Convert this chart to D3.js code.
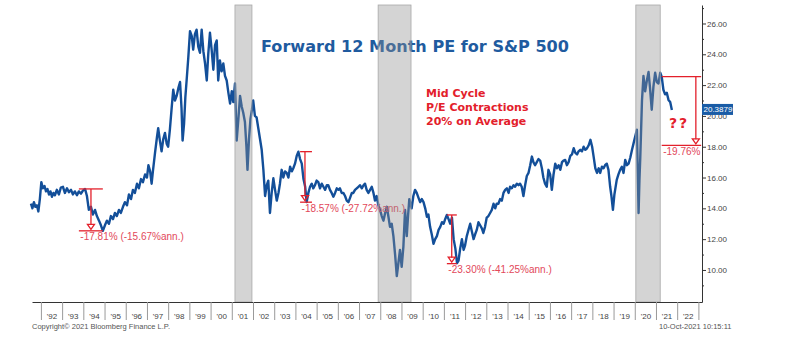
<!DOCTYPE html>
<html>
<head>
<meta charset="utf-8">
<script src="https://cdn.jsdelivr.net/npm/d3@7"></script>
<style>
  body { margin: 0; background: #fff; }
  svg { display: block; }
</style>
</head>
<body>
<svg id="chart" width="790" height="337"></svg>
<script>
// forward 12m P/E, weekly-ish readings (decimal year, value)
const years = [
  1991.53, 1991.6, 1991.67, 1991.74, 1991.81, 1991.88, 1991.95, 1992.02, 1992.09, 1992.17,
  1992.24, 1992.31, 1992.38, 1992.45, 1992.52, 1992.59, 1992.66, 1992.75, 1992.85, 1992.94,
  1993.04, 1993.13, 1993.23, 1993.32, 1993.42, 1993.51, 1993.6, 1993.7, 1993.79, 1993.89,
  1993.98, 1994.08, 1994.17, 1994.26, 1994.36, 1994.45, 1994.55, 1994.64, 1994.74, 1994.83,
  1994.92, 1995.02, 1995.11, 1995.21, 1995.3, 1995.4, 1995.49, 1995.58, 1995.68, 1995.77,
  1995.87, 1995.96, 1996.06, 1996.15, 1996.25, 1996.34, 1996.43, 1996.53, 1996.62, 1996.72,
  1996.81, 1996.91, 1997.0, 1997.07, 1997.15, 1997.22, 1997.28, 1997.38, 1997.47, 1997.53,
  1997.61, 1997.69, 1997.77, 1997.85, 1997.93, 1998.0, 1998.08, 1998.17, 1998.24, 1998.32,
  1998.4, 1998.48, 1998.56, 1998.63, 1998.68, 1998.75, 1998.81, 1998.87, 1998.95, 1999.03,
  1999.11, 1999.18, 1999.26, 1999.34, 1999.42, 1999.5, 1999.58, 1999.66, 1999.74, 1999.82,
  1999.89, 1999.97, 2000.05, 2000.13, 2000.21, 2000.29, 2000.36, 2000.44, 2000.52, 2000.6,
  2000.68, 2000.76, 2000.84, 2000.92, 2001.0, 2001.07, 2001.15, 2001.23, 2001.31, 2001.39,
  2001.47, 2001.54, 2001.62, 2001.69, 2001.74, 2001.81, 2001.88, 2001.95, 2002.01, 2002.09,
  2002.17, 2002.25, 2002.33, 2002.41, 2002.49, 2002.57, 2002.65, 2002.72, 2002.8, 2002.88,
  2002.96, 2003.04, 2003.12, 2003.2, 2003.27, 2003.35, 2003.43, 2003.51, 2003.59, 2003.67,
  2003.75, 2003.83, 2003.9, 2003.98, 2004.06, 2004.14, 2004.22, 2004.3, 2004.38, 2004.46,
  2004.53, 2004.61, 2004.69, 2004.77, 2004.84, 2004.92, 2005.0, 2005.08, 2005.16, 2005.24,
  2005.32, 2005.4, 2005.48, 2005.55, 2005.63, 2005.71, 2005.79, 2005.87, 2005.95, 2006.03,
  2006.1, 2006.18, 2006.26, 2006.34, 2006.42, 2006.5, 2006.58, 2006.66, 2006.73, 2006.81,
  2006.89, 2006.97, 2007.05, 2007.13, 2007.21, 2007.28, 2007.36, 2007.44, 2007.52, 2007.6,
  2007.68, 2007.75, 2007.83, 2007.91, 2007.99, 2008.07, 2008.15, 2008.23, 2008.31, 2008.38,
  2008.46, 2008.54, 2008.62, 2008.7, 2008.78, 2008.86, 2008.93, 2009.01, 2009.09, 2009.17,
  2009.25, 2009.31, 2009.37, 2009.48, 2009.56, 2009.64, 2009.72, 2009.8, 2009.88, 2009.96,
  2010.04, 2010.12, 2010.2, 2010.27, 2010.35, 2010.43, 2010.51, 2010.59, 2010.67, 2010.75,
  2010.83, 2010.91, 2010.99, 2011.06, 2011.14, 2011.22, 2011.3, 2011.38, 2011.46, 2011.54,
  2011.62, 2011.69, 2011.77, 2011.85, 2011.93, 2012.0, 2012.08, 2012.16, 2012.24, 2012.32,
  2012.4, 2012.47, 2012.55, 2012.63, 2012.71, 2012.79, 2012.86, 2012.94, 2013.02, 2013.1,
  2013.18, 2013.26, 2013.34, 2013.42, 2013.49, 2013.57, 2013.65, 2013.73, 2013.81, 2013.89,
  2013.97, 2014.05, 2014.12, 2014.2, 2014.28, 2014.36, 2014.44, 2014.52, 2014.59, 2014.67,
  2014.75, 2014.83, 2014.91, 2014.99, 2015.07, 2015.15, 2015.22, 2015.3, 2015.38, 2015.46,
  2015.54, 2015.62, 2015.69, 2015.77, 2015.85, 2015.93, 2016.01, 2016.09, 2016.17, 2016.25,
  2016.33, 2016.41, 2016.49, 2016.57, 2016.64, 2016.72, 2016.8, 2016.88, 2016.96, 2017.04,
  2017.12, 2017.2, 2017.28, 2017.35, 2017.43, 2017.51, 2017.59, 2017.67, 2017.75, 2017.83,
  2017.91, 2017.99, 2018.06, 2018.14, 2018.22, 2018.3, 2018.37, 2018.45, 2018.53, 2018.6,
  2018.68, 2018.76, 2018.84, 2018.9, 2018.97, 2019.04, 2019.15, 2019.23, 2019.31, 2019.39,
  2019.47, 2019.55, 2019.63, 2019.71, 2019.79, 2019.87, 2019.94, 2020.02, 2020.1, 2020.14,
  2020.18, 2020.22, 2020.26, 2020.34, 2020.41, 2020.49, 2020.57, 2020.65, 2020.72, 2020.8,
  2020.88, 2020.96, 2021.04, 2021.12, 2021.2, 2021.27, 2021.35, 2021.43, 2021.51, 2021.59,
  2021.67, 2021.75
]
const pe = [
  14.3, 14.0, 14.4, 14.1, 14.2, 13.8, 14.6, 15.7, 15.3, 15.45,
  15.1, 15.25, 14.9, 15.1, 14.75, 15.0, 14.85, 15.2, 14.9, 15.35,
  15.4, 15.0, 15.3, 15.05, 15.2, 14.9, 15.1, 14.85, 15.1, 14.95,
  15.15, 15.26, 14.8, 13.9, 14.1, 13.6, 13.9, 13.5, 13.2, 12.9,
  12.54, 12.9, 13.2, 13.0, 13.5, 13.3, 13.7, 13.5, 13.9, 13.7,
  14.1, 14.4, 14.2, 14.9, 14.6, 15.2, 15.0, 15.6, 15.3, 15.9,
  15.7, 16.2, 16.0, 16.8, 16.4, 15.6, 16.4, 17.6, 18.6, 19.2,
  18.4, 17.7, 18.5, 18.9, 18.2, 18.0, 19.1, 20.6, 21.7, 21.0,
  21.3, 21.8, 22.2, 20.5, 18.4, 19.5, 21.2, 22.3, 23.8, 25.5,
  25.2, 24.3, 25.3, 25.6, 24.5, 24.1, 25.6, 24.2, 23.4, 22.3,
  24.0, 25.4, 24.3, 23.0, 24.6, 24.9, 22.3, 23.6, 22.9, 23.4,
  22.6, 22.3, 21.5, 20.8, 21.6, 20.9, 22.1, 18.4, 19.8, 21.3,
  20.6, 20.2, 19.6, 18.0, 16.5, 18.5, 19.8, 20.4, 21.0, 20.0,
  19.9, 19.2, 18.5, 17.8, 16.5, 14.8, 15.5, 15.8, 13.7, 15.0,
  15.95, 15.2, 14.5, 15.0, 15.6, 16.5, 16.0, 16.4, 16.3, 16.0,
  16.7, 16.4, 16.6, 16.9, 17.4, 17.68, 17.2, 16.9, 15.9, 15.4,
  14.41, 15.0, 15.4, 15.6, 15.3, 15.5, 15.8, 15.7, 15.3, 15.6,
  15.4, 15.2, 15.5, 15.5, 15.2, 15.0, 14.76, 15.0, 15.3, 15.2,
  15.3, 15.0, 15.0, 14.8, 14.5, 14.4, 14.7, 15.0, 15.0, 15.2,
  15.3, 15.4, 15.5, 15.3, 15.5, 15.6, 15.2, 15.0, 15.2, 15.4,
  15.0, 14.5, 14.8, 14.2, 13.9, 13.5, 13.2, 13.7, 14.1, 13.5,
  12.8, 13.0, 12.2, 11.0, 9.6, 10.5, 11.3, 10.2, 11.5, 13.9,
  12.2, 13.5, 14.6, 14.0, 14.8, 15.2, 15.0, 14.7, 14.4, 14.6,
  14.4, 14.0, 13.45, 13.6, 12.8, 12.3, 11.7, 12.0, 12.2, 12.6,
  12.8, 13.1, 13.0, 13.3, 13.57, 13.3, 13.0, 13.4, 12.0, 11.4,
  10.44, 10.6, 11.4, 12.0, 11.3, 11.6, 12.2, 12.6, 13.0, 12.5,
  12.0, 12.3, 12.6, 13.1, 12.9, 12.7, 12.4, 12.8, 13.4, 13.5,
  13.7, 13.9, 14.3, 14.0, 14.3, 14.3, 14.6, 14.5, 15.0, 15.2,
  15.3, 15.0, 15.4, 15.3, 15.5, 15.4, 15.6, 15.5, 15.6, 15.4,
  14.8, 15.5, 16.1, 16.3, 16.8, 17.36, 17.0, 16.8, 17.0, 17.2,
  17.1, 16.6, 16.0, 15.6, 15.4, 16.5, 16.2, 15.2, 16.2, 16.9,
  16.6, 16.8, 16.5, 17.0, 17.1, 17.14, 16.8, 17.0, 17.4, 17.5,
  17.9, 17.6, 17.5, 17.7, 17.8, 17.7, 18.0, 17.8, 17.9, 18.1,
  18.45, 18.0, 17.36, 16.6, 16.3, 16.6, 16.3, 16.7, 16.6, 16.8,
  16.9, 16.5, 15.4, 14.8, 13.9, 14.9, 15.85, 16.2, 16.5, 16.7,
  16.3, 17.14, 16.8, 16.9, 17.3, 17.8, 18.2, 18.66, 19.1, 16.5,
  13.7, 15.8, 17.3, 21.0, 22.6, 21.6, 22.3, 22.85, 21.8, 20.4,
  21.9, 22.8, 22.2, 22.1, 22.8, 22.55, 21.7, 21.4, 21.5, 21.04,
  20.9, 20.3879
]

// shaded recession periods
const recStart = [2001.15, 2007.9, 2020.05]
const recEnd = [2001.95, 2009.45, 2021.2]

// peak-to-trough annotations
const ddFrom = [1993.79, 2004.22, 2011.14, 2021.27]
const ddTo = [1994.92, 2004.78, 2011.61, 2023.13]
const ddMid = [1994.36, 2004.45, 2011.37, 2022.88]
const ddHigh = [15.26, 17.68, 13.57, 22.55]
const ddLow = [12.54, 14.40, 10.41, 18.09]
const ddLabels = ["-17.81% (-15.67%ann.)", "-18.57% (-27.72%ann.)", "-23.30% (-41.25%ann.)", "-19.76%"]

const yTicks = [10, 12, 14, 16, 18, 20, 22, 24, 26]
const yMinor = [9, 11, 13, 15, 17, 19, 21, 23, 25, 27]
const xTickYears = d3.range(1992, 2024)
const xLabels = ["'92", "'93", "'94", "'95", "'96", "'97", "'98", "'99", "'00", "'01", "'02",
  "'03", "'04", "'05", "'06", "'07", "'08", "'09", "'10", "'11", "'12", "'13", "'14", "'15",
  "'16", "'17", "'18", "'19", "'20", "'21", "'22"]
const noteLines = ["Mid Cycle", "P/E Contractions", "20% on Average"]
const lastValue = 20.3879

const svg = d3.select("#chart")
const x = d3.scaleLinear().domain([1991.58, 2023.17]).range([32, 702])
const y = d3.scaleLinear().domain([7.92, 27.2]).range([302, 5])

const red = "#e3202b"

// title
svg.append("text")
  .attr("x", 261).attr("y", 52)
  .attr("font-family", "DejaVu Sans, Verdana, sans-serif")
  .attr("font-weight", "bold")
  .attr("font-size", 16.1)
  .attr("fill", "#1f5b9f")
  .text("Forward 12 Month PE for S&P 500")

// red note
svg.append("g").selectAll("text").data(noteLines).join("text")
  .attr("x", 426).attr("y", (d, i) => 97 + i * 13.8)
  .attr("font-family", "DejaVu Sans, Verdana, sans-serif")
  .attr("font-weight", "bold")
  .attr("font-size", 11)
  .attr("fill", red)
  .text(d => d)

svg.append("text")
  .attr("x", 669).attr("y", 128)
  .attr("font-family", "DejaVu Sans, Verdana, sans-serif")
  .attr("font-weight", "bold")
  .attr("font-size", 14)
  .attr("letter-spacing", 2)
  .attr("fill", red)
  .text("??")

// series
const line = d3.line().x((d, i) => x(years[i])).y(d => y(d))
svg.append("path")
  .attr("d", line(pe))
  .attr("fill", "none")
  .attr("stroke", "#134f99")
  .attr("stroke-width", 2.4)
  .attr("stroke-linejoin", "round")

// drawdown markers
const dd = svg.append("g").attr("stroke", red).attr("stroke-width", 1.3).attr("fill", "none")
ddFrom.forEach((f, i) => {
  let x0 = x(f), x1 = x(ddTo[i]), xm = x(ddMid[i])
  let yh = y(ddHigh[i]), yl = y(ddLow[i])
  dd.append("line").attr("x1", x0).attr("x2", x1).attr("y1", yh).attr("y2", yh)
  dd.append("line").attr("x1", x0).attr("x2", x1).attr("y1", yl).attr("y2", yl)
  dd.append("line").attr("x1", xm).attr("x2", xm).attr("y1", yh).attr("y2", yl - 6)
  dd.append("path").attr("d", `M${xm - 3.5},${yl - 6.5}L${xm + 3.5},${yl - 6.5}L${xm},${yl - 1.5}Z`)
  svg.append("text")
    .attr("x", x0 + 1.5).attr("y", yl + 9.5)
    .attr("font-family", "Liberation Sans, Arial, sans-serif")
    .attr("font-size", 10)
    .attr("fill", "#e2485a")
    .text(ddLabels[i])
})

// recession shading on top
recStart.forEach((s, i) => {
  svg.append("rect")
    .attr("x", x(s)).attr("y", 5)
    .attr("width", x(recEnd[i]) - x(s)).attr("height", 297)
    .attr("fill", "#8e8e8e").attr("fill-opacity", 0.38)
    .attr("stroke", "#a8a8a8").attr("stroke-width", 0.8)
})

// x axis: year boundaries plus centred labels
const xAxis = svg.append("g").attr("transform", "translate(0,302)")
  .call(d3.axisBottom(x).tickValues(xTickYears).tickSize(18).tickFormat("").tickSizeOuter(0))
xAxis.select(".domain").attr("stroke", "#333")
xAxis.selectAll(".tick line").attr("stroke", "#9a9a9a")

const xLab = svg.append("g").attr("transform", "translate(0,302)")
  .call(d3.axisBottom(x).tickValues(xLabels.map((d, i) => 1992.5 + i)).tickSize(0)
    .tickFormat((d, i) => xLabels[i]))
xLab.select(".domain").remove()
xLab.selectAll("text")
  .attr("y", 11).attr("font-family", "Liberation Sans, Arial, sans-serif")
  .attr("font-size", 8).attr("fill", "#444")

// y axis on the right
const yAxis = svg.append("g").attr("transform", "translate(702,0)")
  .call(d3.axisRight(y).tickValues(yTicks).tickSize(4).tickPadding(1).tickFormat(d3.format(".2f")).tickSizeOuter(0))
yAxis.select(".domain").attr("stroke", "#333")
yAxis.selectAll(".tick line").attr("stroke", "#333")
yAxis.selectAll("text").attr("font-family", "Liberation Sans, Arial, sans-serif")
  .attr("font-size", 8).attr("fill", "#444")

const yMin = svg.append("g").attr("transform", "translate(702,0)")
  .call(d3.axisRight(y).tickValues(yMinor).tickSize(2).tickFormat(""))
yMin.select(".domain").remove()
yMin.selectAll(".tick line").attr("stroke", "#333")

// last value tag, sits over the 20.00 label like the terminal shows it
svg.append("rect")
  .attr("x", 702).attr("y", y(lastValue) - 6)
  .attr("width", 31).attr("height", 11)
  .attr("fill", "#1a5ca6")
svg.append("text")
  .attr("x", 703.5).attr("y", y(lastValue) + 2.5)
  .attr("font-family", "Liberation Sans, Arial, sans-serif")
  .attr("font-size", 8).attr("fill", "#fff")
  .text(lastValue)

// footer
svg.append("text")
  .attr("x", 32).attr("y", 329)
  .attr("font-family", "Liberation Sans, Arial, sans-serif")
  .attr("font-size", 7.5).attr("fill", "#555")
  .text("Copyright© 2021 Bloomberg Finance L.P.")
svg.append("text")
  .attr("x", 659).attr("y", 329)
  .attr("font-family", "Liberation Sans, Arial, sans-serif")
  .attr("font-size", 7.5).attr("fill", "#555")
  .text("10-Oct-2021 10:15:11")
</script>
</body>
</html>
